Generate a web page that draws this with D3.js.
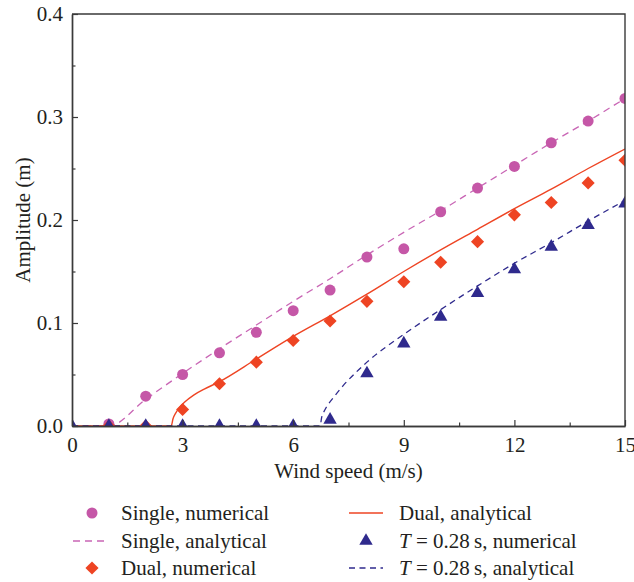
<!DOCTYPE html>
<html>
<head>
<meta charset="utf-8">
<script src="https://cdn.jsdelivr.net/npm/d3@7"></script>
<style>
  body { margin: 0; background: #ffffff; }
  text { font-family: "Liberation Serif", "Times New Roman", Times, serif; fill: #231f20; }
</style>
</head>
<body>
<svg id="svg" width="634" height="582"></svg>
<script>
//Data
const speeds = [0, 1, 2, 3, 4, 5, 6, 7, 8, 9, 10, 11, 12, 13, 14, 15];
const singleNum = [null, 0.002, 0.029, 0.050, 0.071, 0.091, 0.112, 0.132, 0.164, 0.172, 0.208, 0.231, 0.252, 0.275, 0.296, 0.318];
const dualNum = [null, 0, 0, 0.016, 0.041, 0.062, 0.083, 0.102, 0.121, 0.140, 0.159, 0.179, 0.205, 0.217, 0.236, 0.258];
const tNum = [0, 0, 0, 0, 0, 0, 0, 0.006, 0.051, 0.080, 0.106, 0.129, 0.152, 0.174, 0.195, 0.216];

const singleAnaX = [0, 1, 2, 3, 4, 5, 6, 7, 8, 9, 10, 11, 12, 13, 14, 15];
const singleAnaY = [0, 0, 0.026, 0.051, 0.075, 0.098, 0.121, 0.143, 0.166, 0.188, 0.209, 0.231, 0.253, 0.275, 0.296, 0.318];
const dualAnaX = [0, 2.69, 2.74, 2.82, 2.92, 3.05, 3.3, 3.6, 4, 5, 6, 7, 8, 9, 10, 11, 12, 13, 14, 15];
const dualAnaY = [0, 0, 0.007, 0.013, 0.018, 0.023, 0.030, 0.036, 0.043, 0.065, 0.087, 0.107, 0.128, 0.150, 0.171, 0.191, 0.211, 0.230, 0.250, 0.269];
const tAnaX = [0, 6.73, 6.77, 6.85, 6.95, 7.1, 7.35, 7.7, 8, 9, 10, 11, 12, 13, 14, 15];
const tAnaY = [0, 0, 0.008, 0.015, 0.021, 0.028, 0.039, 0.052, 0.062, 0.089, 0.113, 0.136, 0.158, 0.178, 0.199, 0.219];

const xTicks = [0, 3, 6, 9, 12, 15];
const xMinor = [1.5, 4.5, 7.5, 10.5, 13.5];
const yTicks = [0, 0.1, 0.2, 0.3, 0.4];
const yMinor = [0.05, 0.15, 0.25, 0.35];

//Colours
const PINK = "#c557a7";
const PINK_LINE = "#c966b5";
const RED = "#ee4423";
const NAVY = "#2f2a8d";
const AXIS = "#3a3a3a";
const FONT = 21;

//Plot box
const LEFT = 72, RIGHT = 625, TOP = 14, BOTTOM = 426;

const svg = d3.select("svg");

const x = d3.scaleLinear().domain([0, 15]).range([LEFT, RIGHT]);
const y = d3.scaleLinear().domain([0, 0.4]).range([BOTTOM, TOP]);

svg.append("clipPath").attr("id", "plot")
  .append("rect")
  .attr("x", LEFT).attr("y", TOP)
  .attr("width", RIGHT - LEFT).attr("height", BOTTOM - TOP);

const plot = svg.append("g").attr("clip-path", "url(#plot)");

//Analytical curves
const line = d3.line().x(d => x(d[0])).y(d => y(d[1])).curve(d3.curveMonotoneX);

plot.append("path")
  .attr("d", line(d3.zip(singleAnaX, singleAnaY)))
  .attr("fill", "none").attr("stroke", PINK_LINE)
  .attr("stroke-width", 1.3).attr("stroke-dasharray", "7,5");

plot.append("path")
  .attr("d", line(d3.zip(dualAnaX, dualAnaY)))
  .attr("fill", "none").attr("stroke", RED)
  .attr("stroke-width", 1.4);

plot.append("path")
  .attr("d", line(d3.zip(tAnaX, tAnaY)))
  .attr("fill", "none").attr("stroke", NAVY)
  .attr("stroke-width", 1.3).attr("stroke-dasharray", "6,4.5");

//Numerical markers
const circleSym = d3.symbol().type(d3.symbolCircle).size(95);
const squareSym = d3.symbol().type(d3.symbolSquare).size(86);
const triSym = d3.symbol().type(d3.symbolTriangle).size(78);

function markers(values, sym, color, rotate) {
  plot.append("g")
    .selectAll("path")
    .data(d3.zip(speeds, values).filter(d => d[1] !== null))
    .enter().append("path")
    .attr("d", sym)
    .attr("fill", color)
    .attr("transform", d => "translate(" + x(d[0]) + "," + y(d[1]) + ") rotate(" + rotate + ")");
}

markers(singleNum, circleSym, PINK, 0);
markers(dualNum, squareSym, RED, 45);
markers(tNum, triSym, NAVY, 0);

//Axes with inward ticks
svg.append("g")
  .attr("transform", "translate(0," + BOTTOM + ")")
  .call(d3.axisBottom(x).tickValues(xTicks).tickFormat(d3.format("d"))
    .tickSizeInner(-6).tickSizeOuter(0).tickPadding(11));
svg.append("g")
  .attr("transform", "translate(0," + BOTTOM + ")")
  .call(d3.axisBottom(x).tickValues(xMinor).tickFormat("")
    .tickSizeInner(-3.5).tickSizeOuter(0));

svg.append("g")
  .attr("transform", "translate(" + LEFT + ",0)")
  .call(d3.axisLeft(y).tickValues(yTicks).tickFormat(d3.format(".1f"))
    .tickSizeInner(-6).tickSizeOuter(0).tickPadding(9));
svg.append("g")
  .attr("transform", "translate(" + LEFT + ",0)")
  .call(d3.axisLeft(y).tickValues(yMinor).tickFormat("")
    .tickSizeInner(-3.5).tickSizeOuter(0));

svg.selectAll(".tick line").attr("stroke", AXIS).attr("stroke-width", 1.2);
svg.selectAll(".domain").attr("stroke", AXIS).attr("stroke-width", 1.4);
svg.selectAll(".tick text").attr("font-size", FONT)
  .style("font-family", "'Liberation Serif', 'Times New Roman', serif").attr("fill", "#231f20");

//Top and right edges of the box
svg.append("path")
  .attr("d", "M" + LEFT + "," + TOP + "H" + RIGHT + "V" + BOTTOM)
  .attr("fill", "none").attr("stroke", AXIS).attr("stroke-width", 1.4);

//Axis titles
svg.append("text")
  .attr("x", (LEFT + RIGHT) / 2).attr("y", 478)
  .attr("text-anchor", "middle").attr("font-size", FONT)
  .text("Wind speed (m/s)");

svg.append("text")
  .attr("transform", "translate(30," + (TOP + BOTTOM) / 2 + ") rotate(-90)")
  .attr("text-anchor", "middle").attr("font-size", FONT)
  .text("Amplitude (m)");

//Legend
const legend = svg.append("g");
const rows = [513, 541, 568];

function legendText(tx, ty, parts) {
  const t = legend.append("text").attr("x", tx).attr("y", ty).attr("dy", "0.35em").attr("font-size", FONT);
  parts.forEach(p => t.append("tspan").attr("font-style", p[1] ? "italic" : null).text(p[0]));
}

legend.append("path").attr("d", circleSym).attr("fill", PINK)
  .attr("transform", "translate(92," + rows[0] + ")");
legendText(121, rows[0], [["Single, numerical", false]]);

legend.append("line").attr("x1", 73).attr("x2", 108).attr("y1", rows[1]).attr("y2", rows[1])
  .attr("stroke", PINK_LINE).attr("stroke-width", 1.3).attr("stroke-dasharray", "7,5");
legendText(121, rows[1], [["Single, analytical", false]]);

legend.append("path").attr("d", squareSym).attr("fill", RED)
  .attr("transform", "translate(92," + rows[2] + ") rotate(45)");
legendText(121, rows[2], [["Dual, numerical", false]]);

legend.append("line").attr("x1", 349).attr("x2", 383).attr("y1", rows[0]).attr("y2", rows[0])
  .attr("stroke", RED).attr("stroke-width", 1.4);
legendText(399, rows[0], [["Dual, analytical", false]]);

legend.append("path").attr("d", triSym).attr("fill", NAVY)
  .attr("transform", "translate(366," + rows[1] + ")");
legendText(399, rows[1], [["T", true], [" = 0.28\u2009s, numerical", false]]);

legend.append("line").attr("x1", 349).attr("x2", 383).attr("y1", rows[2]).attr("y2", rows[2])
  .attr("stroke", NAVY).attr("stroke-width", 1.3).attr("stroke-dasharray", "6,4.5");
legendText(399, rows[2], [["T", true], [" = 0.28\u2009s, analytical", false]]);
</script>
</body>
</html>
